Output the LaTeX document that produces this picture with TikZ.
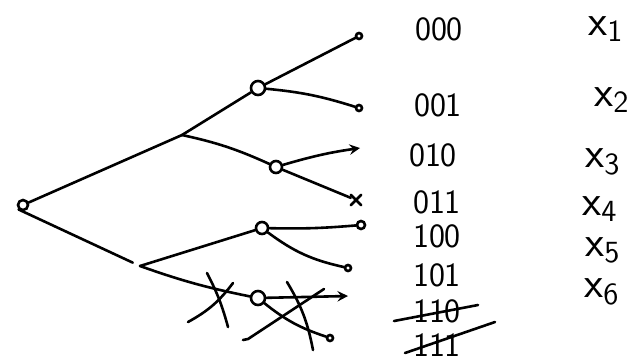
\documentclass[tikz,border=0pt]{standalone}
\usetikzlibrary{shapes.misc}
\tikzset{
  inner/.style={circle, draw, inner sep=0pt, minimum size=7pt},
  leaf/.style={circle, draw, inner sep=0pt, minimum size=3pt},
  word/.style={font=\sffamily\fontsize{17}{19}\selectfont, inner sep=0pt},
  mark label/.style={font=\sffamily\fontsize{22}{24}\selectfont, inner sep=0pt},
}
\begin{document}
\begin{tikzpicture}[x=0.5pt, y=-0.5pt, line width=1.3pt, line cap=round, >=stealth]
        \useasboundingbox (0,0) rectangle (636,361);
        % root and branch points
        \node[inner, minimum size=5pt] (r) at (23,205) {};
        \coordinate (b0) at (182,135);
        \coordinate (b1) at (140,266);
        % second level
        \node[inner] (n00) at (258,88) {};
        \node[inner, minimum size=6pt] (n01) at (276,167) {};
        \node[inner, minimum size=6pt] (n10) at (262,228) {};
        \node[inner] (n11) at (258,298) {};
        % leaves
        \node[leaf] (l000) at (359,36) {};
        \node[leaf] (l001) at (359,108) {};
        \coordinate (l010) at (360,148);
        \node[cross out, draw, inner sep=0pt, minimum size=4pt] (l011) at (356,200) {};
        \node[leaf, minimum size=4pt] (l100) at (361,225) {};
        \node[leaf] (l101) at (348,268) {};
        \coordinate (l110) at (348,296);
        \node[leaf] (l111) at (330,338) {};
        % edges
        \draw (r) -- (b0);
        \draw[shorten >=4pt] (r.south west) -- (b1);
        \draw (b0) -- (n00);
        \draw (b0) to[bend left=6] (n01);
        \draw (b1) -- (n10);
        \draw (b1) to[bend right=4] (n11);
        \draw (n00) -- (l000);
        \draw (n00) to[bend left=6] (l001);
        \draw[->] (n01) to[bend left=4] (l010);
        \draw (n01) -- (l011);
        \draw (n10) to[bend right=3] (l100);
        \draw (n10) to[bend right=12] (l101);
        \draw[->] (n11) -- (l110);
        \draw (n11) to[bend right=10] (l111);
        % crossed out branch
        \draw (188,322) to[bend right=12] (233,283);
        \draw (207,273) to[bend left=6] (228,327);
        \draw (243,340) -- (248,339) -- (324,289);
        \draw (287,282) to[bend left=10] (313,350);
        % words
        \node[word] (w000) at (439,29) {000};
        \node[word] (w001) at (438,105) {001};
        \node[word] (w010) at (433,155) {010};
        \node[word] (w011) at (437,202) {011};
        \node[word] (w100) at (437,236) {100};
        \node[word] (w101) at (437,275) {101};
        \node[word] (w110) at (437,311) {110};
        \node[word] (w111) at (437,345) {111};
        \draw (394,321) -- (478,305);
        \draw (405,353) -- (495,322);
        % labels
        \node[mark label] (x1) at (606,29) {x\textsubscript{1}};
        \node[mark label] (x2) at (612,100) {x\textsubscript{2}};
        \node[mark label] (x3) at (603,162) {x\textsubscript{3}};
        \node[mark label] (x4) at (600,209) {x\textsubscript{4}};
        \node[mark label] (x5) at (603,250) {x\textsubscript{5}};
        \node[mark label] (x6) at (602,292) {x\textsubscript{6}};
\end{tikzpicture}
\end{document}
